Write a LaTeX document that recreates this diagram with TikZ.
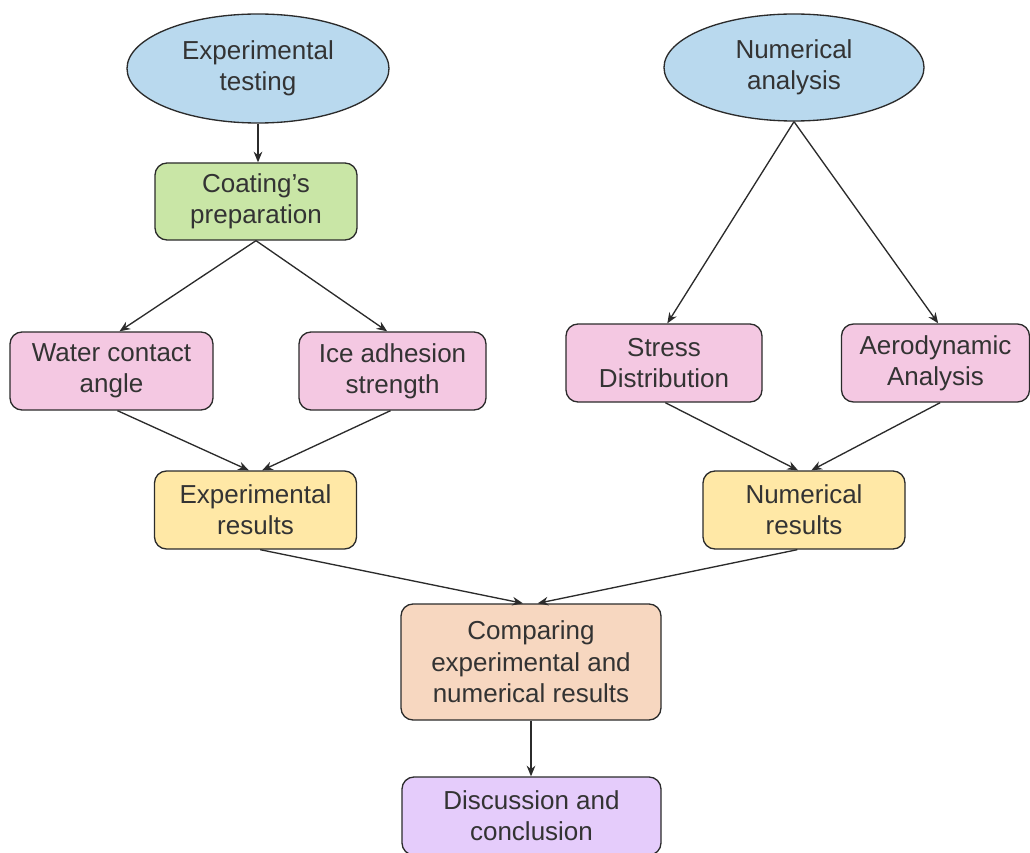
\documentclass[tikz,border=0pt]{standalone}
\usepackage{fontspec}
\setmainfont{Liberation Sans}
\usetikzlibrary{shapes.geometric,arrows.meta}
\definecolor{cblue}{HTML}{B9D9EE}
\definecolor{cgreen}{HTML}{C9E6A6}
\definecolor{cpink}{HTML}{F4C8E2}
\definecolor{cyellow}{HTML}{FFE8A6}
\definecolor{cpeach}{HTML}{F7D7C0}
\definecolor{clav}{HTML}{E5CCFB}
\definecolor{cline}{HTML}{2B2B2B}
\definecolor{ctext}{HTML}{333333}
\tikzset{
  base/.style={draw=cline, line width=1pt, text=ctext, align=center, inner sep=0pt,
    font=\fontsize{19.5}{23.5}\selectfont},
  oval/.style={base, ellipse},
  box/.style={base, rectangle, rounded corners=9pt, minimum height=58.5pt},
  arr/.style={draw=cline, line width=1pt, -{Stealth[length=8pt,width=6.5pt]}}
}
\begin{document}
\begin{tikzpicture}[x=0.75pt,y=-0.75pt]
\useasboundingbox (0,0) rectangle (1030,852);
\node[oval, fill=cblue, minimum width=196.5pt, minimum height=81.75pt] (exp) at (258,68.5) {Experimental\\testing};
\node[oval, fill=cblue, minimum width=195pt, minimum height=80.25pt] (num) at (794,67.5) {Numerical\\analysis};
\node[box, fill=cgreen, minimum width=151.5pt, minimum height=57.75pt] (coat) at (256,201.5) {Coating’s\\preparation};
\node[box, fill=cpink, minimum width=152.25pt] (water) at (111.5,371) {Water contact\\angle};
\node[box, fill=cpink, minimum width=140.25pt] (ice) at (392.5,371) {Ice adhesion\\strength};
\node[box, fill=cpink, minimum width=147pt] (stress) at (664,363) {Stress\\Distribution};
\node[box, fill=cpink, minimum width=141pt] (aero) at (935.5,363) {Aerodynamic\\Analysis};
\node[box, fill=cyellow, minimum width=151.5pt] (expres) at (255.5,510) {Experimental\\results};
\node[box, fill=cyellow, minimum width=151.5pt] (numres) at (804,510) {Numerical\\results};
\node[box, fill=cpeach, minimum width=195pt, minimum height=87pt] (comp) at (531,662) {Comparing\\experimental and\\numerical results};
\node[box, fill=clav, minimum width=194.25pt] (disc) at (531.5,816) {Discussion and\\conclusion};

\draw[arr] (exp.south) -- (exp.south |- coat.north);
\draw[arr] (coat.south) -- ([xshift=6pt]water.north);
\draw[arr] (coat.south) -- ([xshift=-4pt]ice.north);
\draw[arr] ([xshift=4.5pt]water.south) -- ([xshift=-5pt]expres.north);
\draw[arr] ([xshift=-1.5pt]ice.south) -- ([xshift=5pt]expres.north);
\draw[arr] (num.south) -- ([xshift=2.5pt]stress.north);
\draw[arr] (num.south) -- ([xshift=2pt]aero.north);
\draw[arr] ([xshift=1pt]stress.south) -- ([xshift=-4.5pt]numres.north);
\draw[arr] ([xshift=3.5pt]aero.south) -- ([xshift=5.5pt]numres.north);
\draw[arr] ([xshift=3.5pt]expres.south) -- ([xshift=-6pt]comp.north);
\draw[arr] ([xshift=-5pt]numres.south) -- ([xshift=5pt]comp.north);
\draw[arr] (comp.south) -- (comp.south |- disc.north);
\end{tikzpicture}
\end{document}
